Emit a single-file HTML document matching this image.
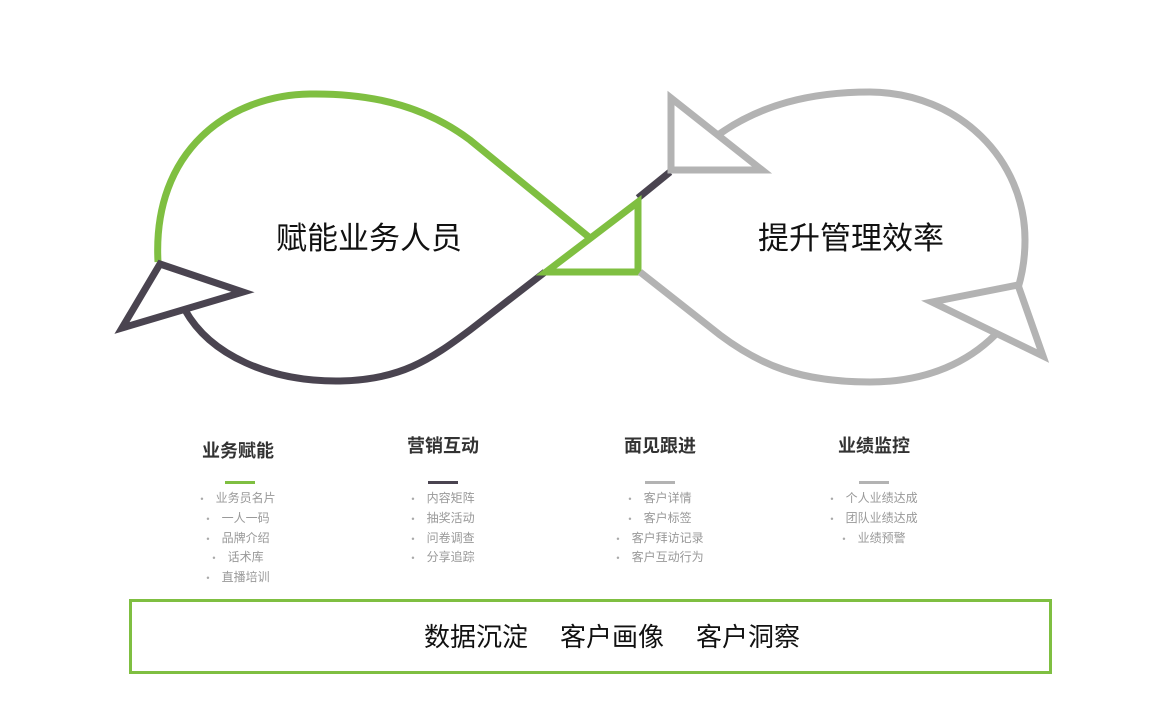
<!DOCTYPE html>
<html><head><meta charset="utf-8"><style>
body{margin:0;width:1173px;height:720px;background:#fff;overflow:hidden;font-family:"Liberation Sans","Noto Sans CJK SC",sans-serif;position:relative}
.col{position:absolute;width:200px;text-align:center}
.col h3{margin:0;font-size:18px;font-weight:bold;color:#333;height:24px;line-height:24px}
.bar{width:30px;height:3px;margin:18px auto 5px}
.col div.i{font-size:12px;color:#999;line-height:18.8px}
.col div.i:before{content:"•";font-size:9px;margin-right:12px;color:#aaa}
</style></head><body>
<svg width="1173" height="720" style="position:absolute;left:0;top:0">
<g fill="none" stroke-width="7" stroke-linejoin="miter">
<path d="M158,262 C152,150 230,95 310,94 C380,93 430,110 470,140 L590,238" stroke="#7fbf41"/>
<path d="M185,310 C210,355 270,382 340,381 C400,380 430,360 470,330 L545,272" stroke="#4a4450"/>
<path d="M638,198 L670,172" stroke="#4a4450"/>
<polygon points="546,272 638,202 638,272" stroke="#7fbf41"/>
<polygon points="160,264 243,292 122,328" stroke="#4a4450"/>
<path d="M718,135 C760,105 810,92 870,92 C960,93 1025,160 1025,240 C1025,260 1022,275 1018,288" stroke="#b3b3b3"/>
<polygon points="671,98 671,170 762,170" stroke="#b3b3b3"/>
<polygon points="932,302 1018,285 1043,356" stroke="#b3b3b3"/>
<path d="M640,272 L720,335 C760,365 800,382 870,382 C930,382 970,360 995,335" stroke="#b3b3b3"/>
</g>
<g font-family="Liberation Sans,Noto Sans CJK SC,sans-serif" fill="#111" text-anchor="middle">
<text x="369" y="249" font-size="31">赋能业务人员</text>
<text x="851" y="249" font-size="31">提升管理效率</text>
<text x="476" y="646" font-size="26">数据沉淀</text>
<text x="612" y="646" font-size="26">客户画像</text>
<text x="748" y="646" font-size="26">客户洞察</text>
</g>
<rect x="130.5" y="600.5" width="920" height="72" fill="none" stroke="#7fbf41" stroke-width="3"/>
</svg>
<div class="col" style="left:138px;top:439px"><h3>业务赋能</h3><div class="bar" style="background:#7fbf41;margin-left:87px"></div>
<div class="i">业务员名片</div><div class="i">一人一码</div><div class="i">品牌介绍</div><div class="i">话术库</div><div class="i">直播培训</div></div>
<div class="col" style="left:343px;top:434px"><h3>营销互动</h3><div class="bar" style="background:#4a4450;margin-top:23px"></div>
<div class="i">内容矩阵</div><div class="i">抽奖活动</div><div class="i">问卷调查</div><div class="i">分享追踪</div></div>
<div class="col" style="left:560px;top:434px"><h3>面见跟进</h3><div class="bar" style="background:#b3b3b3;margin-top:23px"></div>
<div class="i">客户详情</div><div class="i">客户标签</div><div class="i">客户拜访记录</div><div class="i">客户互动行为</div></div>
<div class="col" style="left:774px;top:434px"><h3>业绩监控</h3><div class="bar" style="background:#b3b3b3;margin-top:23px"></div>
<div class="i">个人业绩达成</div><div class="i">团队业绩达成</div><div class="i">业绩预警</div></div>
</body></html>
